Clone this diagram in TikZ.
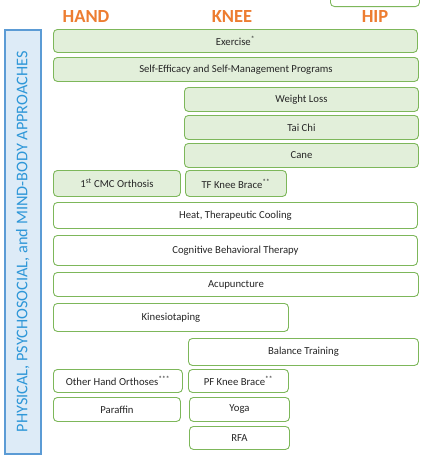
\documentclass[tikz,border=0pt]{standalone}
\usepackage{fontspec}
\setmainfont{Carlito}
\usepackage{tikz}
\usetikzlibrary{positioning}
\definecolor{leaf}{HTML}{E2EFDA}
\definecolor{leafline}{HTML}{7DB75A}
\definecolor{sky}{HTML}{DDEBF7}
\definecolor{skyline}{HTML}{5B9BD5}
\definecolor{skytext}{HTML}{2E97D8}
\definecolor{joint}{HTML}{ED7D31}
\tikzset{
  tbox/.style={draw=leafline,line width=0.9pt,rounded corners=4pt,anchor=north west,
    inner sep=0pt,text=black!85,font=\fontsize{10.7}{12}\selectfont},
  gbox/.style={tbox,fill=leaf},
  wbox/.style={tbox,fill=white},
  sz/.style 2 args={minimum width=#1,minimum height=#2},
  joint/.style={text=joint,font=\fontsize{18.5}{21}\selectfont\bfseries}
}

\begin{document}
\begin{tikzpicture}[x=1pt,y=-1pt]
\clip (0,0) rectangle (437,455);
\fill[white] (0,0) rectangle (437,455);
% column heads
\node[wbox,sz={89pt}{20pt},anchor=south west] (top) at (330,7) {};
\node[joint] (hand) at (86,17) {HAND};
\node[joint] (knee) at (232,17) {KNEE};
\node[joint] (hip) at (375,17) {HIP};
% side label
\node[draw=skyline,fill=sky,line width=1.6pt,anchor=north west,sz={36pt}{424pt}] (side) at (4,29) {};
\node[rotate=90,text=skytext,font=\fontsize{16.3}{18}\selectfont] (sidetext) at (side.center) {PHYSICAL, PSYCHOSOCIAL, and MIND-BODY APPROACHES};
% green rows
\node[gbox,sz={364pt}{23pt}] (ex) at (53,29) {Exercise\textsuperscript{*}};
\node[gbox,sz={365pt}{24pt}] (self) at (53,57) {Self-Efficacy and Self-Management Programs};
\node[gbox,sz={234pt}{24pt}] (wl) at (184,87) {Weight Loss};
\node[gbox,sz={234pt}{24pt}] (tai) at (184,115) {Tai Chi};
\node[gbox,sz={234pt}{24pt}] (cane) at (184,143) {Cane};
\node[gbox,sz={127pt}{26pt}] (cmc) at (53,170) {1\textsuperscript{st} CMC Orthosis};
\node[gbox,sz={101pt}{26pt}] (tf) at (185,170) {TF Knee Brace\textsuperscript{**}};
% white rows
\node[wbox,sz={364pt}{26pt}] (heat) at (53,202) {Heat, Therapeutic Cooling};
\node[wbox,sz={364pt}{30pt}] (cbt) at (53,235) {Cognitive Behavioral Therapy};
\node[wbox,sz={365pt}{24pt}] (acu) at (53,272) {Acupuncture};
\node[wbox,sz={235pt}{28pt}] (kin) at (53,303) {Kinesiotaping};
\node[wbox,sz={230pt}{27pt}] (bal) at (188,338) {Balance Training};
\node[wbox,sz={129pt}{23pt}] (oho) at (53,369) {Other Hand Orthoses\textsuperscript{***}};
\node[wbox,sz={100pt}{23pt}] (pf) at (188,369) {PF Knee Brace\textsuperscript{**}};
\node[wbox,sz={127pt}{24pt}] (par) at (53,397) {Paraffin};
\node[wbox,sz={100pt}{24pt}] (yoga) at (189,397) {Yoga};
\node[wbox,sz={100pt}{23pt}] (rfa) at (189,426) {RFA};
\end{tikzpicture}
\end{document}
